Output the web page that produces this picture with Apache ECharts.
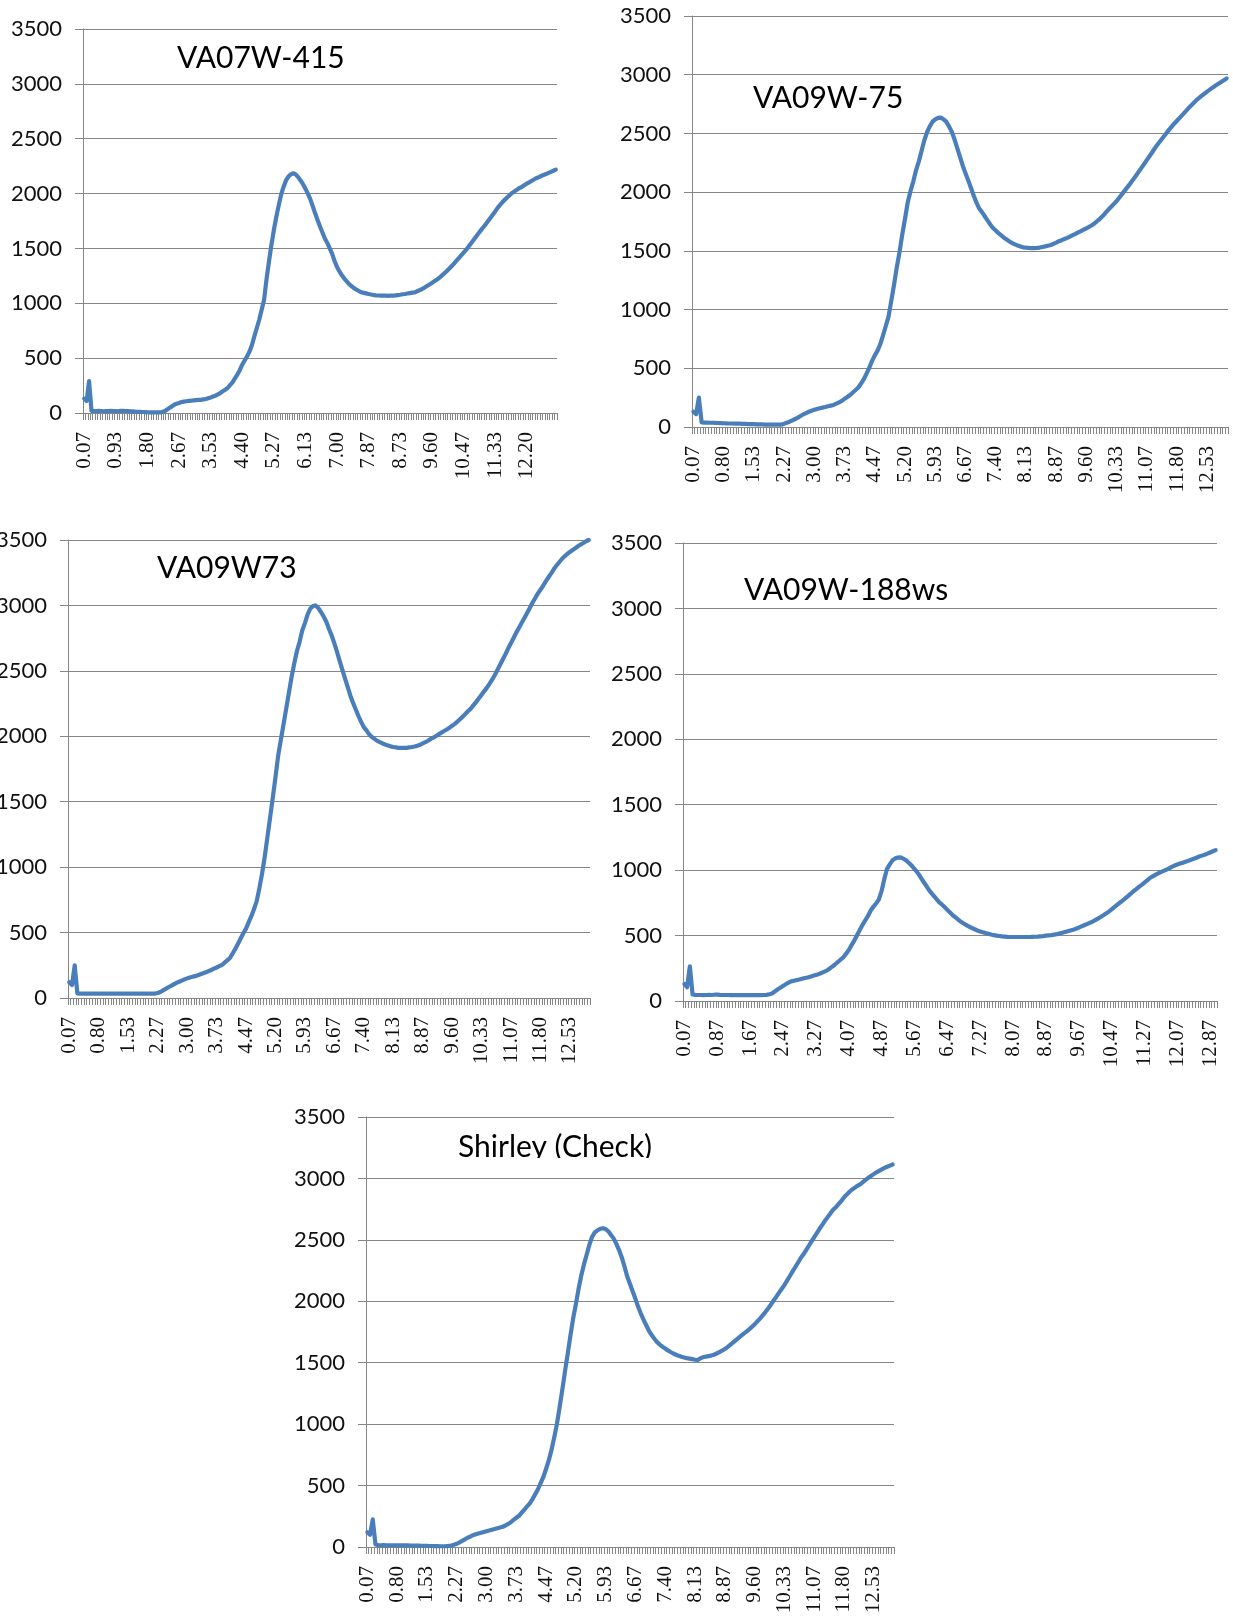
<!DOCTYPE html>
<html>
<head>
<meta charset="utf-8">
<title>RVA viscosity profiles</title>
<script src="https://cdn.jsdelivr.net/npm/echarts@6/dist/echarts.min.js"></script>
<style>
  html, body { margin: 0; padding: 0; background: #ffffff; }
  #chart { width: 1233px; height: 1616px; }
</style>
</head>
<body>
<div id="chart"></div>
<script>
// Sample times in minutes: one reading every 4 seconds over a 13-minute run.
const SAMPLE_TIMES = [];
for (let k = 1; k <= 195; k++) SAMPLE_TIMES.push((k * 4 / 60).toFixed(2));

const PANEL_TITLES = ['VA07W-415', 'VA09W-75', 'VA09W73', 'VA09W-188ws', 'Shirley (Check)'];

// Every n-th sample time is printed on each panel's time axis.
const LABEL_EVERY = [13, 11, 11, 12, 11];

// Viscosity readings, one value per sample time.
const VA07W_415 = [
  130,110,290,20,18,17,19,18,16,18,17,19,18,17,16,
  20,19,18,17,15,14,12,11,10,9,8,7,6,6,5,
  5,6,8,15,30,45,60,75,85,92,100,104,107,110,112,
  115,117,119,120,124,128,135,142,150,158,170,182,198,212,228,
  255,280,315,350,390,440,478,516,560,620,700,775,850,940,1033,
  1220,1380,1530,1665,1785,1890,1990,2060,2120,2155,2175,2185,2175,2150,2120,
  2085,2045,2000,1950,1885,1820,1760,1700,1645,1590,1550,1500,1450,1385,1330,
  1290,1255,1225,1200,1175,1155,1138,1124,1112,1100,1095,1090,1085,1080,1076,
  1072,1071,1070,1069,1069,1068,1069,1070,1072,1075,1078,1082,1085,1089,1093,
  1097,1100,1110,1120,1130,1143,1157,1170,1185,1200,1215,1230,1250,1270,1290,
  1312,1335,1358,1385,1410,1435,1460,1485,1512,1542,1572,1602,1632,1660,1688,
  1715,1745,1775,1805,1835,1868,1895,1920,1944,1965,1985,2005,2020,2035,2050,
  2060,2075,2090,2102,2115,2128,2140,2150,2160,2170,2178,2188,2198,2208,2218
];

const VA09W_75 = [
  130,110,250,40,38,37,36,36,35,34,33,32,31,30,30,
  29,28,28,27,26,25,25,24,23,22,22,21,21,20,20,
  20,20,20,28,37,45,57,68,80,94,108,119,130,138,146,
  154,160,165,170,176,182,188,199,210,222,240,256,273,294,315,
  336,370,407,455,505,563,610,650,706,780,860,940,1075,1210,1360,
  1490,1640,1775,1915,2010,2090,2186,2260,2350,2440,2510,2560,2600,2620,2632,
  2635,2620,2600,2560,2515,2450,2375,2300,2225,2160,2100,2035,1970,1910,1860,
  1830,1795,1760,1725,1695,1673,1650,1631,1612,1596,1580,1566,1555,1545,1538,
  1530,1527,1525,1524,1524,1525,1528,1533,1538,1544,1550,1560,1570,1582,1591,
  1601,1611,1622,1634,1645,1657,1668,1680,1692,1705,1718,1735,1755,1775,1798,
  1825,1852,1876,1900,1925,1955,1985,2015,2045,2075,2108,2140,2173,2207,2240,
  2275,2308,2342,2378,2410,2440,2470,2500,2530,2558,2585,2610,2635,2660,2686,
  2712,2735,2760,2783,2802,2822,2840,2858,2875,2892,2908,2923,2938,2953,2968
];

const VA09W73 = [
  120,100,250,35,33,33,33,33,33,33,33,33,33,33,33,
  33,33,33,33,33,33,33,33,33,33,33,33,33,33,33,
  33,33,34,38,46,58,70,82,93,104,115,124,133,142,150,
  157,162,167,174,182,189,196,205,214,224,233,243,252,270,288,
  306,340,375,415,455,495,530,580,625,680,740,840,950,1080,1230,
  1380,1530,1687,1850,1970,2090,2210,2330,2450,2555,2650,2720,2808,2865,2930,
  2975,2995,3000,2980,2950,2915,2875,2820,2770,2710,2645,2575,2507,2440,2375,
  2310,2255,2205,2155,2110,2070,2045,2015,1995,1980,1965,1955,1945,1937,1930,
  1923,1918,1915,1912,1911,1911,1912,1915,1918,1922,1928,1935,1945,1955,1966,
  1980,1990,2002,2015,2028,2040,2052,2066,2080,2095,2113,2132,2152,2172,2193,
  2212,2238,2263,2290,2318,2345,2372,2402,2434,2470,2510,2550,2590,2630,2674,
  2713,2753,2794,2830,2867,2904,2942,2980,3020,3055,3090,3120,3150,3185,3215,
  3245,3278,3305,3330,3355,3375,3393,3409,3423,3437,3452,3465,3477,3490,3500
];

const VA09W_188WS = [
  130,105,265,50,47,46,46,45,46,47,46,48,49,47,46,
  46,46,45,45,45,45,45,45,45,45,45,45,45,45,46,
  47,52,58,72,88,101,115,128,140,150,155,160,164,170,176,
  180,186,193,199,205,214,223,232,247,263,279,297,315,333,360,
  388,425,460,500,540,580,615,648,690,720,745,775,839,930,1010,
  1044,1075,1090,1096,1098,1087,1075,1055,1035,1010,985,955,921,890,858,
  830,805,780,755,738,718,697,677,655,640,622,605,592,580,568,
  558,548,539,532,525,519,514,508,503,500,497,494,492,490,489,
  489,489,489,489,489,489,489,490,491,492,494,496,500,502,504,
  507,511,516,521,527,533,539,545,552,561,570,579,588,597,606,
  618,630,642,655,669,683,700,718,735,751,767,784,802,820,839,
  855,872,888,905,922,940,952,964,975,985,994,1003,1014,1025,1035,
  1043,1050,1057,1064,1071,1079,1087,1095,1104,1111,1118,1126,1135,1144,1153
];

const SHIRLEY_CHECK = [
  120,100,225,20,15,14,15,14,13,14,14,13,14,13,13,
  13,12,12,11,11,10,10,9,8,8,7,7,6,6,7,
  9,12,18,26,37,50,62,75,85,96,103,110,116,122,128,
  134,140,146,152,158,165,175,188,202,220,238,254,280,305,330,
  355,390,430,470,520,570,635,705,790,890,1000,1137,1280,1430,1573,
  1720,1860,1975,2100,2210,2300,2380,2460,2525,2560,2578,2590,2595,2588,2570,
  2540,2510,2465,2415,2355,2280,2200,2140,2080,2020,1955,1900,1850,1805,1760,
  1725,1695,1668,1648,1630,1616,1600,1587,1575,1565,1556,1548,1542,1537,1533,
  1529,1524,1522,1535,1545,1550,1554,1558,1565,1575,1586,1598,1612,1627,1645,
  1663,1682,1700,1718,1736,1754,1772,1791,1812,1835,1859,1885,1912,1941,1972,
  2004,2036,2068,2100,2132,2168,2204,2241,2277,2313,2350,2380,2415,2450,2485,
  2520,2555,2590,2622,2655,2685,2715,2745,2765,2790,2815,2845,2868,2890,2910,
  2925,2940,2952,2970,2988,3005,3020,3035,3050,3062,3074,3086,3095,3104,3113
];

const PANEL_SERIES = [VA07W_415, VA09W_75, VA09W73, VA09W_188WS, SHIRLEY_CHECK];

// Plot boxes and title anchors for the five panels (page pixels).
const PANELS = [
  { left: 83,  top: 29,   width: 474, height: 384, titleX: 177, titleY: 58 },
  { left: 692, top: 16,   width: 536, height: 411, titleX: 753, titleY: 98 },
  { left: 68,  top: 540,  width: 522, height: 458, titleX: 157, titleY: 568 },
  { left: 683, top: 543,  width: 534, height: 458, titleX: 744, titleY: 590 },
  { left: 366, top: 1117, width: 528, height: 430, titleX: 458, titleY: 1147 }
];

const GRID_GREY = '#868686';
const LINE_BLUE = '#4a7ebb';

const option = {
  animation: false,
  backgroundColor: '#ffffff',
  grid: PANELS.map(p => ({
    left: p.left, top: p.top, width: p.width, height: p.height,
    containLabel: false,
    outerBoundsMode: 'none'
  })),
  xAxis: PANELS.map((p, i) => ({
    type: 'category',
    gridIndex: i,
    data: SAMPLE_TIMES,
    boundaryGap: true,
    axisLine: { show: true, lineStyle: { color: GRID_GREY, width: 1 } },
    axisTick: { show: true, interval: 0, length: 7, lineStyle: { color: GRID_GREY, width: 1 } },
    axisLabel: {
      interval: LABEL_EVERY[i] - 1,
      rotate: 90,
      margin: 19,
      fontFamily: 'Liberation Serif',
      fontSize: 21,
      color: '#111111'
    },
    splitLine: { show: false }
  })),
  yAxis: PANELS.map((p, i) => ({
    type: 'value',
    gridIndex: i,
    min: 0,
    max: 3500,
    interval: 500,
    axisLine: { show: true, lineStyle: { color: GRID_GREY, width: 1 } },
    axisTick: { show: true, length: 8, lineStyle: { color: GRID_GREY, width: 1 } },
    axisLabel: {
      margin: 21,
      fontFamily: 'Lato',
      fontSize: 22,
      color: '#111111',
      formatter: v => String(v)
    },
    splitLine: { show: true, lineStyle: { color: GRID_GREY, width: 1 } }
  })),
  series: PANEL_SERIES.map((values, i) => ({
    type: 'line',
    name: PANEL_TITLES[i],
    xAxisIndex: i,
    yAxisIndex: i,
    data: values,
    showSymbol: false,
    symbol: 'none',
    lineStyle: { color: LINE_BLUE, width: 4.2, cap: 'round', join: 'round' }
  })),
  graphic: PANELS.map((p, i) => ({
    type: 'text',
    x: p.titleX,
    y: p.titleY,
    z: 10,
    style: {
      text: PANEL_TITLES[i],
      font: '30px Lato',
      fill: '#000000',
      textVerticalAlign: 'middle',
      verticalAlign: 'middle'
    }
  })).concat([
    // the last panel's title box is cut off just under the baseline
    {
      type: 'rect',
      z: 11,
      shape: { x: 450, y: 1158, width: 230, height: 14 },
      style: { fill: '#ffffff' }
    }
  ])
};

const chart = echarts.init(document.getElementById('chart'), null, { renderer: 'canvas' });
chart.setOption(option);
</script>
</body>
</html>
